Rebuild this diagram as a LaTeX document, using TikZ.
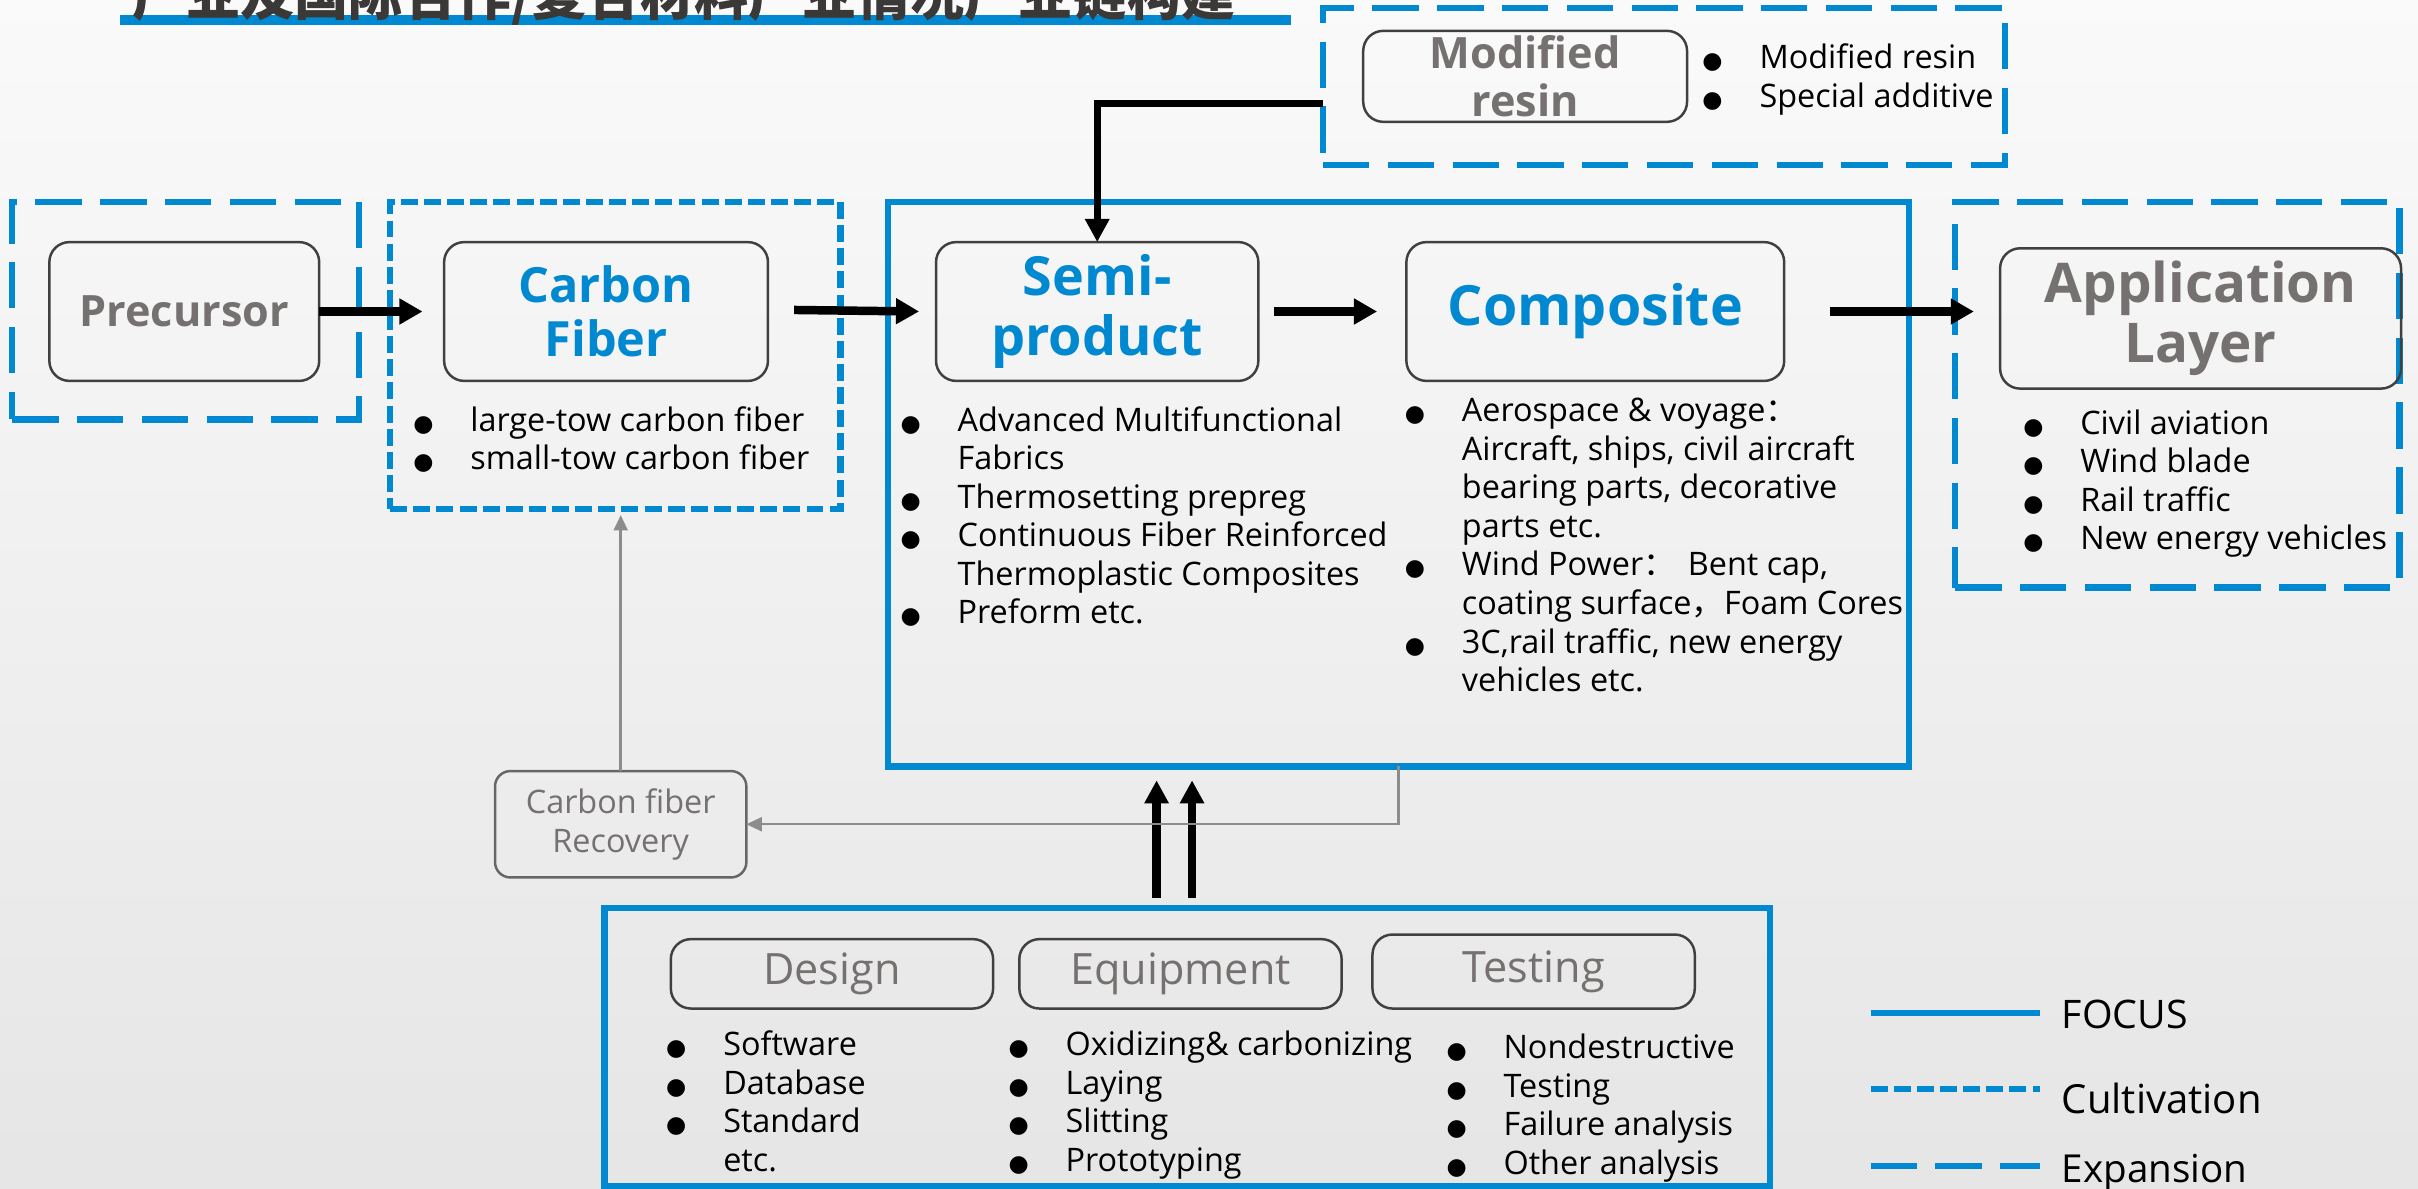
\documentclass[tikz,border=0pt]{standalone}
\usepackage{fontspec}
\setmainfont{Open Sans}
\newfontfamily\cjkfont{Noto Sans CJK SC}
\newfontfamily\symfont{DejaVu Sans}
\usetikzlibrary{arrows.meta,calc}
\definecolor{pblue}{RGB}{0,137,208}
\definecolor{tgray}{RGB}{118,113,113}
\definecolor{bgray}{RGB}{64,64,64}
\definecolor{ttl}{RGB}{59,56,56}
\definecolor{lgray}{RGB}{140,140,140}
\newcommand{\bl}{\makebox[37pt][l]{\symfont\fontsize{15}{25}\selectfont ●}}
\newcommand{\ind}{\hspace*{37pt}}
\tikzset{
  every node/.style={inner sep=0pt, outer sep=0pt},
  rbox/.style={draw=bgray, line width=1.6pt, rounded corners=13pt, align=center},
  graybold/.style={text=tgray, font=\bfseries},
  bluebold/.style={text=pblue, font=\bfseries},
  focusbox/.style={draw=pblue, line width=4pt},
  cultbox/.style={draw=pblue, line width=4pt, dash pattern=on 11pt off 4pt},
  expbox/.style={draw=pblue, line width=4pt, dash pattern=on 30pt off 12pt},
  listtext/.style={anchor=north west, align=left, font=\fontsize{21}{25}\selectfont},
  bigarrow/.style={line width=5.5pt, -{Triangle[length=15pt,width=16pt]}},
  uparrow/.style={line width=5.4pt, -{Triangle[length=15pt,width=15pt]}},
  recarrow/.style={draw=lgray, line width=1.6pt, -{Triangle[length=10pt,width=9pt]}},
  legline/.style={line width=4pt, draw=pblue},
}
\begin{document}
\begin{tikzpicture}[x=1pt,y=-1pt]
\useasboundingbox (0,0) rectangle (1568,771);
\begin{scope}
\clip (0,0) rectangle (1568,771);
\shade[top color=white!98!black, bottom color=white!90!black] (0,0) rectangle (1568,771);

% title (cut off at the top)
\fill[pblue] (78,10) rectangle (837,16.5);
\node[anchor=base west, text=ttl] (title) at (86,10)
  {\resizebox{715pt}{!}{\cjkfont\bfseries\fontsize{35}{40}\selectfont 产业及国际合作/复合材料产业情况产业链构建}};

% group frames
\node[expbox, minimum width=442pt, minimum height=102pt] (expmr) at (1079,56) {};
\node[expbox, minimum width=225pt, minimum height=141pt] (exppre) at (120.5,201.5) {};
\node[cultbox, minimum width=292pt, minimum height=199pt] (cultcf) at (399,230.5) {};
\node[focusbox, minimum width=662pt, minimum height=366pt] (focusm) at (907,314) {};
\node[expbox, minimum width=288pt, minimum height=250pt] (expapp) at (1412,256) {};
\node[focusbox, minimum width=756pt, minimum height=180pt] (focusb) at (770,679) {};

% main boxes
\node[rbox, minimum width=210pt, minimum height=59pt, graybold, font=\bfseries\fontsize{28}{31}\selectfont] (mr) at (989,49.5) {Modified\\resin};
\node[rbox, minimum width=175pt, minimum height=90pt, graybold, font=\bfseries\fontsize{28}{32}\selectfont] (pre) at (119.5,202) {Precursor};
\node[rbox, minimum width=210pt, minimum height=90pt, bluebold, font=\bfseries\fontsize{31.5}{37}\selectfont] (cf) at (393,202) {\raisebox{-2pt}{Carbon}\\Fiber};
\node[rbox, minimum width=209pt, minimum height=90pt, bluebold, font=\bfseries\fontsize{35}{42}\selectfont] (semi) at (711.5,202) {\raisebox{-3pt}{Semi-}\\product};
\node[rbox, minimum width=245pt, minimum height=90pt, bluebold, font=\bfseries\fontsize{36}{42}\selectfont] (comp) at (1034.5,202) {Composite};
\node[rbox, minimum width=260pt, minimum height=91pt, graybold, font=\bfseries\fontsize{35.5}{42}\selectfont] (app) at (1427,206.5) {\raisebox{-3pt}{Application}\\Layer};
\node[rbox, draw=bgray!80, rounded corners=10pt, minimum width=163pt, minimum height=69pt, text=tgray, font=\fontsize{21}{25}\selectfont] (rec) at (402.5,534.5) {Carbon fiber\\Recovery};
\node[rbox, minimum width=209pt, minimum height=45pt, text=tgray, font=\fontsize{28}{32}\selectfont] (des) at (539.5,631.5) {\raisebox{-3pt}{Design}};
\node[rbox, minimum width=209pt, minimum height=45pt, text=tgray, font=\fontsize{28}{32}\selectfont] (equ) at (765.5,631.5) {\raisebox{-3pt}{Equipment}};
\node[rbox, minimum width=209pt, minimum height=48pt, text=tgray, font=\fontsize{28}{32}\selectfont] (tes) at (994.5,630) {\raisebox{-2pt}{Testing}};

% bullet lists
\node[listtext] (mrl) at (1104,27) {\bl\strut Modified resin\\ \bl Special additive};
\node[listtext] (cfl) at (268,262) {\bl\strut large-tow carbon fiber\\ \bl small-tow carbon fiber};
\node[listtext] (semil) at (584,262) {\bl\strut Advanced Multifunctional\\ \ind Fabrics\\ \bl Thermosetting prepreg\\ \bl Continuous Fiber Reinforced\\ \ind Thermoplastic Composites\\ \bl Preform etc.};
\node[listtext] (compl) at (911,256) {\bl\strut Aerospace \& voyage{\cjkfont ：}\\ \ind Aircraft, ships, civil aircraft\\ \ind bearing parts, decorative\\ \ind parts etc.\\ \bl Wind Power{\cjkfont ：}\hspace{8pt}Bent cap,\\ \ind coating surface{\cjkfont ，}Foam Cores\\ \bl 3C,rail traffic, new energy\\ \ind vehicles etc.};
\node[listtext] (appl) at (1312,264) {\bl\strut Civil aviation\\ \bl Wind blade\\ \bl Rail traffic\\ \bl New energy vehicles};
\node[listtext] (desl) at (432,667) {\bl\strut Software\\ \bl Database\\ \bl Standard\\ \ind etc.};
\node[listtext] (equl) at (654,667) {\bl\strut Oxidizing\& carbonizing\\ \bl Laying\\ \bl Slitting\\ \bl Prototyping};
\node[listtext] (tesl) at (938,669) {\bl\strut Nondestructive\\ \bl Testing\\ \bl Failure analysis\\ \bl Other analysis};

% connectors
\draw[bigarrow] (pre.east) -- ([xshift=-14pt]cf.west);
\draw[bigarrow] ([xshift=17pt,yshift=1pt]cf.east) -- ([xshift=-11pt]semi.west);
\draw[bigarrow] ([xshift=10pt]semi.east) -- ([xshift=-19pt]comp.west);
\draw[bigarrow] ([xshift=30pt]comp.east) -- ([xshift=-17pt]comp.east -| app.west);
\draw[line width=4.5pt, -{Triangle[length=15pt,width=15pt]}] ([yshift=-11pt]expmr.west) -| (semi.north);
\draw[uparrow] ([xshift=-20pt,yshift=7pt]focusb.north) -- ([xshift=-20pt,yshift=-9pt]focusb.north |- focusm.south);
\draw[uparrow] ([xshift=3pt,yshift=7pt]focusb.north) -- ([xshift=3pt,yshift=-9pt]focusb.north |- focusm.south);
\draw[recarrow] (focusm.south) |- (rec.east);
\draw[recarrow] (rec.north) -- ([yshift=-4pt]rec.north |- cultcf.south);

% legend
\node[anchor=base west, font=\fontsize{25.5}{30}\selectfont] (lgf) at (1337,667) {FOCUS};
\node[anchor=base west, font=\fontsize{26}{30}\selectfont] (lgc) at (1337,722) {Cultivation};
\node[anchor=base west, font=\fontsize{25}{30}\selectfont] (lge) at (1337,767) {Expansion};
\draw[legline] (1213,657) -- (1323,657);
\draw[legline, dash pattern=on 11pt off 4pt] (1213,706) -- (1323,706);
\draw[legline, dash pattern=on 30pt off 12pt] (1213,756) -- (1323,756);
\end{scope}
\end{tikzpicture}
\end{document}
